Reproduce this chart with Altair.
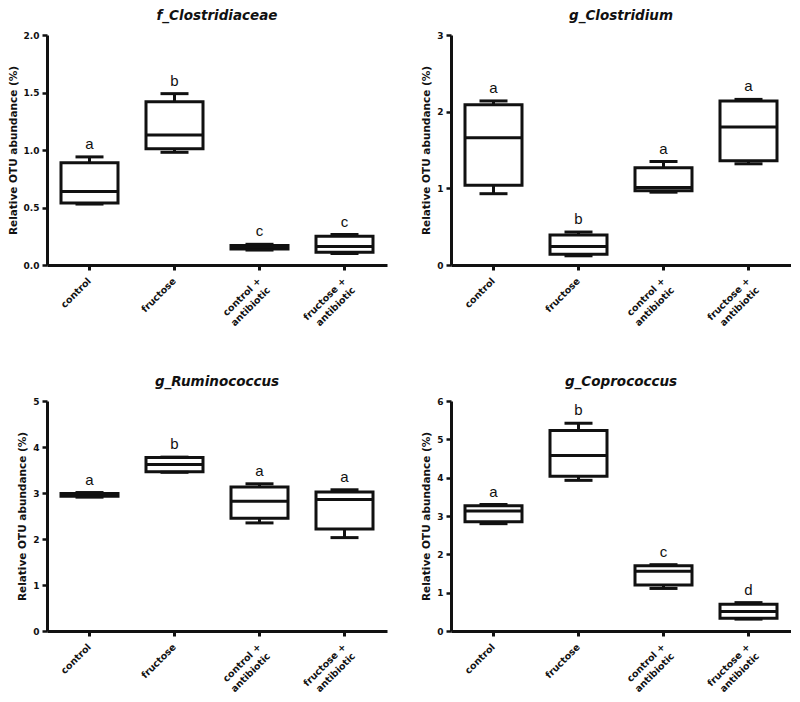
import altair as alt
import pandas as pd

groups = ["control", "fructose", "control + antibiotic", "fructose + antibiotic"]

# panel 1: f_Clostridiaceae
p1_title = "f_Clostridiaceae"
p1_min = [0.53, 0.98, 0.13, 0.10]
p1_q1 = [0.54, 1.01, 0.14, 0.11]
p1_med = [0.64, 1.13, 0.155, 0.16]
p1_q3 = [0.89, 1.42, 0.17, 0.25]
p1_max = [0.94, 1.49, 0.18, 0.265]
p1_letters = ["a", "b", "c", "c"]
p1_ticks = [0.0, 0.5, 1.0, 1.5, 2.0]

# panel 2: g_Clostridium
p2_title = "g_Clostridium"
p2_min = [0.93, 0.12, 0.95, 1.32]
p2_q1 = [1.04, 0.14, 0.97, 1.36]
p2_med = [1.66, 0.24, 1.01, 1.80]
p2_q3 = [2.09, 0.39, 1.27, 2.14]
p2_max = [2.14, 0.43, 1.35, 2.16]
p2_letters = ["a", "b", "a", "a"]
p2_ticks = [0, 1, 2, 3]

# panel 3: g_Ruminococcus
p3_title = "g_Ruminococcus"
p3_min = [2.91, 3.45, 2.35, 2.03]
p3_q1 = [2.93, 3.46, 2.45, 2.22]
p3_med = [2.96, 3.62, 2.82, 2.86]
p3_q3 = [2.99, 3.77, 3.13, 3.02]
p3_max = [3.01, 3.78, 3.20, 3.07]
p3_letters = ["a", "b", "a", "a"]
p3_ticks = [0, 1, 2, 3, 4, 5]

# panel 4: g_Coprococcus
p4_title = "g_Coprococcus"
p4_min = [2.80, 3.93, 1.11, 0.31]
p4_q1 = [2.85, 4.04, 1.20, 0.33]
p4_med = [3.13, 4.58, 1.56, 0.51]
p4_q3 = [3.27, 5.23, 1.70, 0.70]
p4_max = [3.30, 5.42, 1.73, 0.74]
p4_letters = ["a", "b", "c", "d"]
p4_ticks = [0, 1, 2, 3, 4, 5, 6]

INK = "#111111"
FONT = "DejaVu Sans"


def panel(title, mins, q1, med, q3, maxs, letters, ticks, fmt):
    df = pd.DataFrame({
        "group": groups, "min": mins, "q1": q1, "med": med,
        "q3": q3, "max": maxs, "letter": letters,
    })
    x = alt.X(
        "group:N", sort=groups,
        scale=alt.Scale(paddingInner=0, paddingOuter=0),
        axis=alt.Axis(
            title=None, labelAngle=-45, labelAlign="right", labelBaseline="middle",
            labelFont=FONT, labelFontWeight="bold", labelFontSize=9.5,
            labelColor=INK, labelPadding=9, tickSize=5, tickWidth=3,
            tickColor=INK, domainWidth=3, domainColor=INK, labelLineHeight=13,
            labelExpr="indexof(datum.label, '+') > 0 ? [slice(datum.label, 0, indexof(datum.label, '+') + 1), slice(datum.label, indexof(datum.label, '+') + 2)] : datum.label",
        ),
    )
    yscale = alt.Scale(domain=[ticks[0], ticks[-1]], nice=False)
    yaxis = alt.Axis(
        title="Relative OTU abundance (%)", values=ticks, format=fmt,
        titleFont=FONT, titleFontWeight="bold", titleFontSize=10.5, titleColor=INK,
        titlePadding=5, labelFont=FONT, labelFontWeight="bold", labelFontSize=9,
        labelColor=INK, labelPadding=3, tickSize=5, tickWidth=2.5, tickColor=INK,
        domainWidth=3, domainColor=INK, grid=False,
    )
    base = alt.Chart(df)
    whisker = base.mark_rule(strokeWidth=3, color=INK).encode(
        x=x, y=alt.Y("min:Q", scale=yscale, axis=yaxis), y2="max:Q"
    )
    box = base.mark_bar(size=57, fill="white", stroke=INK, strokeWidth=3).encode(
        x=x, y=alt.Y("q1:Q", scale=yscale, axis=yaxis), y2="q3:Q"
    )
    median = base.mark_tick(size=58, thickness=3, color=INK, opacity=1).encode(
        x=x, y=alt.Y("med:Q", scale=yscale, axis=yaxis)
    )
    cap_lo = base.mark_tick(size=28, thickness=3, color=INK, opacity=1).encode(
        x=x, y=alt.Y("min:Q", scale=yscale, axis=yaxis)
    )
    cap_hi = base.mark_tick(size=28, thickness=3, color=INK, opacity=1).encode(
        x=x, y=alt.Y("max:Q", scale=yscale, axis=yaxis)
    )
    text = base.mark_text(
        font="Liberation Sans", fontSize=15, color=INK, baseline="middle", dy=-13
    ).encode(x=x, y=alt.Y("max:Q", scale=yscale, axis=yaxis), text="letter:N")
    return alt.layer(whisker, box, median, cap_lo, cap_hi, text).properties(
        width=340, height=230,
        title=alt.TitleParams(
            title, font=FONT, fontSize=13.5, fontStyle="italic", fontWeight="bold",
            color=INK, offset=9, anchor="middle",
        ),
    )


c1 = panel(p1_title, p1_min, p1_q1, p1_med, p1_q3, p1_max, p1_letters, p1_ticks, ".1f")
c2 = panel(p2_title, p2_min, p2_q1, p2_med, p2_q3, p2_max, p2_letters, p2_ticks, "d")
c3 = panel(p3_title, p3_min, p3_q1, p3_med, p3_q3, p3_max, p3_letters, p3_ticks, "d")
c4 = panel(p4_title, p4_min, p4_q1, p4_med, p4_q3, p4_max, p4_letters, p4_ticks, "d")

chart = alt.vconcat(
    alt.hconcat(c1, c2, spacing=34),
    alt.hconcat(c3, c4, spacing=34),
    spacing=43,
).properties(
    padding={"left": 0, "top": 0, "right": 0, "bottom": 0},
    background="white",
).configure_view(stroke=None)

chart.save("out.html", embed_options={"renderer": "svg", "actions": False})
